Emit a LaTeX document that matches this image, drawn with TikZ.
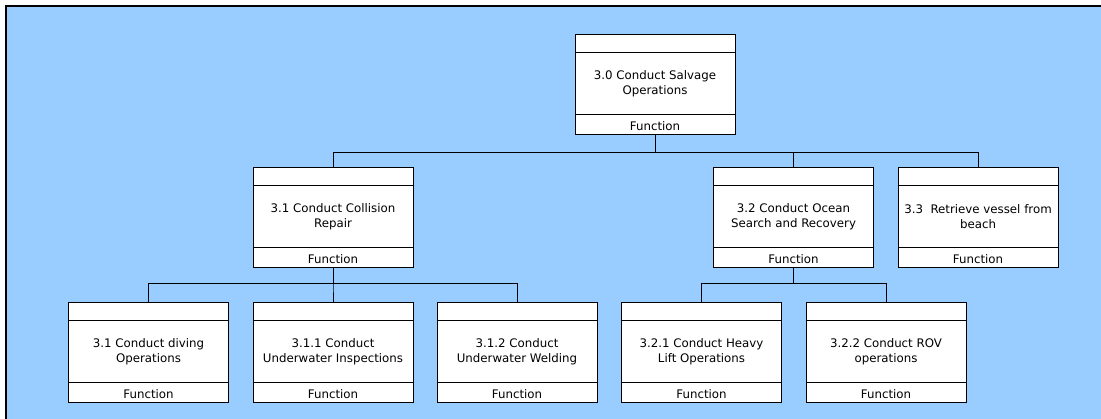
\documentclass[tikz,border=0pt]{standalone}
\usepackage{fontspec}
\setmainfont{DejaVu Sans}
\usepackage{tikz}
\usetikzlibrary{positioning,calc}
\definecolor{canvasblue}{RGB}{153,204,255}
\newcommand{\boxfont}{\fontsize{11.8}{15}\selectfont}

\tikzset{
  funcbox/.style={draw, fill=white, line width=1pt, minimum width=160pt,
    minimum height=100pt, inner sep=0pt, align=center, font=\boxfont,
    path picture={
      \draw[line width=1pt] ([yshift=-18pt]path picture bounding box.north west)
        -- ([yshift=-18pt]path picture bounding box.north east);
      \draw[line width=1pt] ([yshift=20pt]path picture bounding box.south west)
        -- ([yshift=20pt]path picture bounding box.south east);
    },
    label={[anchor=south, inner sep=0pt, yshift=3.5pt, font=\boxfont]south:Function}},
  link/.style={line width=1pt},
}

\begin{document}
\begin{tikzpicture}[x=1pt,y=-1pt]
  \useasboundingbox (0,0) rectangle (1101,418);
  % canvas
  \fill[canvasblue] (6,6) rectangle (1112,430);
  \draw[line width=2.5pt] (6,430) -- (6,6) -- (1112,6);
  % top level
  \node[funcbox] (f30) at (655,84) {3.0 Conduct Salvage\\Operations};
  % second level
  \node[funcbox] (f31) at (333,217) {3.1 Conduct Collision\\Repair};
  \node[funcbox] (f32) at (793.5,217) {3.2 Conduct Ocean\\Search and Recovery};
  \node[funcbox] (f33) at (978,217) {3.3\ \ Retrieve vessel from\\beach};
  % third level
  \node[funcbox] (f31a) at (148.5,352) {3.1 Conduct diving\\Operations};
  \node[funcbox] (f311) at (333,352) {3.1.1 Conduct\\Underwater Inspections};
  \node[funcbox] (f312) at (517,352) {3.1.2 Conduct\\Underwater Welding};
  \node[funcbox] (f321) at (701.5,352) {3.2.1 Conduct Heavy\\Lift Operations};
  \node[funcbox] (f322) at (886,352) {3.2.2 Conduct ROV\\operations};
  % connectors
  \foreach \c in {f31,f32,f33}
    \draw[link] (f30.south) -- ++(0,18) -| (\c.north);
  \foreach \c in {f31a,f311,f312}
    \draw[link] (f31.south) -- ++(0,16) -| (\c.north);
  \foreach \c in {f321,f322}
    \draw[link] (f32.south) -- ++(0,16) -| (\c.north);
\end{tikzpicture}
\end{document}
